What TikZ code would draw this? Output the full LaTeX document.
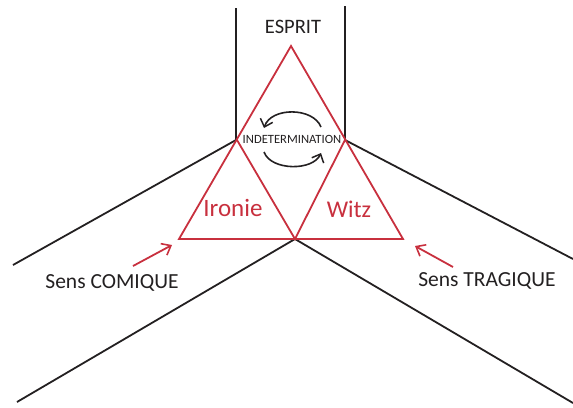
\documentclass[tikz,border=0pt]{standalone}
\usepackage{fontspec}
\setmainfont{Carlito}
\usetikzlibrary{arrows.meta}
\definecolor{redc}{RGB}{200,48,62}
\definecolor{ink}{RGB}{35,32,33}
\tikzset{
  blk/.style={draw=ink, line width=1.8pt, line join=round},
  tri/.style={draw=redc, line width=1.8pt, line join=miter},
  redarrow/.style={draw=redc, line width=1.8pt, -{Straight Barb[length=8pt,width=13pt,line width=1.6pt]}},
  rotarrow/.style={draw=ink, line width=1.6pt, -{Straight Barb[length=7pt,width=13pt,line width=1.5pt]}},
  lbl/.style={text=ink, inner sep=0pt, anchor=base},
  rlbl/.style={text=redc, inner sep=0pt, anchor=base},
}
\begin{document}
\begin{tikzpicture}[x=1pt,y=-1pt]
\useasboundingbox (0,0) rectangle (573,407);
% coordinates
\coordinate (A) at (291,46);
\coordinate (L) at (237,140);
\coordinate (R) at (345,140);
\coordinate (BL) at (179,239);
\coordinate (BM) at (295,239);
\coordinate (BR) at (403,239);
\coordinate (LT) at (236,8);
\coordinate (RT) at (345,6);
\coordinate (LU) at (13,265);
\coordinate (RU) at (573,259);
\coordinate (LD) at (17,402);
\coordinate (RD) at (573,403);
% black band lines
\draw[blk] (LT) -- (236,140) -- (LU);
\draw[blk] (RT) -- (R) -- (RU);
\draw[blk] (LD) -- (BM) -- (RD);
% red triangles
\draw[tri] (A) -- (BL) -- (BR) -- cycle;
\draw[tri] (L) -- (BM) -- (R);
% labels
\node[lbl, font=\fontsize{20.5}{20.5}\selectfont] (esprit) at (293,33) {ESPRIT};
\node[lbl, font=\fontsize{12.6}{12.6}\selectfont] (indet) at (292,143.5) {INDETERMINATION};
\node[rlbl, font=\fontsize{25}{25}\selectfont] (ironie) at (233,216) {Ironie};
\node[rlbl, font=\fontsize{24}{24}\selectfont] (witz) at (349,217) {Witz};
\node[lbl, font=\fontsize{21.5}{21.5}\selectfont] (comique) at (112,288) {Sens COMIQUE};
\node[lbl, font=\fontsize{21.5}{21.5}\selectfont] (tragique) at (487,286) {Sens TRAGIQUE};
% red arrows
\coordinate (ca0) at (133,266);
\coordinate (ca1) at (172,245);
\coordinate (ta0) at (453,267);
\coordinate (ta1) at (415,246);
\draw[redarrow] (ca0) -- (ca1);
\draw[redarrow] (ta0) -- (ta1);
% rotation arrows
\coordinate (u0) at (321,127);
\coordinate (u1) at (264,128);
\coordinate (d0) at (264,152);
\coordinate (d1) at (321,153);
\draw[rotarrow] (u0) .. controls (313,107) and (271,107) .. (u1);
\draw[rotarrow] (d0) .. controls (271,171) and (313,171) .. (d1);
\end{tikzpicture}
\end{document}
